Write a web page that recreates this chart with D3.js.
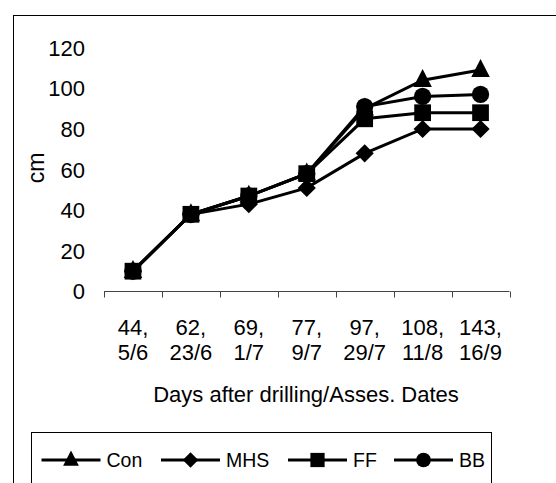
<!DOCTYPE html>
<meta charset="utf-8">
<style type="text/css">
    body { margin: 0; background: #fff; }
    svg text { font-family: "Liberation Sans", Arial, sans-serif; fill: #000; }
</style>
<svg id="chart" width="556" height="483"></svg>
<script src="https://cdn.jsdelivr.net/npm/d3@7"></script>
<script type="text/javascript">
    // data
    var days = ["44,", "62,", "69,", "77,", "97,", "108,", "143,"];
    var dates = ["5/6", "23/6", "1/7", "9/7", "29/7", "11/8", "16/9"];
    var yTicks = [0, 20, 40, 60, 80, 100, 120];

    var conValues = [10, 38, 47, 58, 90, 104, 109];
    var mhsValues = [10, 38, 43, 51, 68, 80, 80];
    var ffValues = [10, 38, 47, 58, 85, 88, 88];
    var bbValues = [10, 38, 47, 58, 91, 96, 97];

    var seriesNames = ["Con", "MHS", "FF", "BB"];
    var seriesShapes = ["triangle", "diamond", "square", "circle"];
    var seriesValues = [conValues, mhsValues, ffValues, bbValues];

    var svg = d3.select("#chart");

    // outer chart frame (runs off the right and bottom of the picture)
    svg.append("rect")
        .attr("x", 13.5).attr("y", 15.5)
        .attr("width", 700).attr("height", 600)
        .attr("fill", "none").attr("stroke", "#000").attr("stroke-width", 1);

    var x = d3.scaleBand().domain(days).range([104, 509.5]);
    var y = d3.scaleLinear().domain([0, 120]).range([291.5, 47.7]);
    var cx = d => x(d) + x.bandwidth() / 2;

    // y tick labels, no axis line
    svg.append("g").selectAll("text")
        .data(yTicks)
        .enter().append("text")
        .attr("x", 85)
        .attr("y", d => y(d))
        .attr("dy", "0.36em")
        .attr("text-anchor", "end")
        .style("font-size", "22px")
        .text(d => d);

    svg.append("text")
        .attr("transform", "translate(44,168) rotate(-90)")
        .attr("text-anchor", "middle")
        .style("font-size", "23px")
        .text("cm");

    // x axis: line plus ticks between categories
    var axisY = 291.5;
    svg.append("line")
        .attr("x1", x.range()[0]).attr("x2", x.range()[1])
        .attr("y1", axisY).attr("y2", axisY)
        .attr("stroke", "#444").attr("stroke-width", 1);
    var bounds = days.map(d => x(d)).concat([x.range()[1]]);
    svg.append("g").selectAll("line")
        .data(bounds)
        .enter().append("line")
        .attr("x1", d => Math.round(d) + 0.5).attr("x2", d => Math.round(d) + 0.5)
        .attr("y1", axisY).attr("y2", axisY + 6)
        .attr("stroke", "#444").attr("stroke-width", 1);

    var labels = svg.append("g").selectAll("text")
        .data(days)
        .enter().append("text")
        .attr("text-anchor", "middle")
        .style("font-size", "22px");
    labels.append("tspan")
        .attr("x", cx)
        .attr("y", 335)
        .text(d => d);
    labels.append("tspan")
        .attr("x", cx)
        .attr("y", 360)
        .text((d, i) => dates[i]);

    svg.append("text")
        .attr("x", 306).attr("y", 402)
        .attr("text-anchor", "middle")
        .style("font-size", "22px")
        .text("Days after drilling/Asses. Dates");

    // marker shapes, k scales them down for the legend
    function symbolFor(shape, k) {
        if (shape == "triangle") {
            var w = 18.5 * k, h = 18 * k;
            return "M0," + (-h * 0.62) + "L" + (w / 2) + "," + (h * 0.38) + "L" + (-w / 2) + "," + (h * 0.38) + "Z";
        }
        if (shape == "diamond") return d3.symbol(d3.symbolSquare, 165 * k * k)();
        if (shape == "square") return d3.symbol(d3.symbolSquare, 280 * k * k)();
        return d3.symbol(d3.symbolCircle, 235 * k * k)();
    }
    function rotFor(shape) { return shape == "diamond" ? " rotate(45)" : ""; }

    var line = d3.line()
        .x((d, i) => cx(days[i]))
        .y(d => y(d));

    // draw order: Con, MHS, BB, FF so the squares sit on top at the start
    var order = [0, 1, 3, 2];
    order.forEach(function (s) {
        var g = svg.append("g");
        g.append("path")
            .attr("d", line(seriesValues[s]))
            .attr("fill", "none").attr("stroke", "#000").attr("stroke-width", 3);
        g.selectAll("path.m")
            .data(seriesValues[s])
            .enter().append("path")
            .attr("class", "m")
            .attr("d", symbolFor(seriesShapes[s], 1))
            .attr("transform", (d, i) => "translate(" + cx(days[i]) + "," + y(d) + ")" + rotFor(seriesShapes[s]))
            .attr("fill", "#000");
    });

    // legend box
    svg.append("rect")
        .attr("x", 31.5).attr("y", 432.5)
        .attr("width", 460).attr("height", 100)
        .attr("fill", "#fff").attr("stroke", "#000").attr("stroke-width", 1);

    var legendX = [41.5, 161, 288, 394];
    var legendY = 460;
    seriesNames.forEach(function (name, s) {
        var g = svg.append("g").attr("transform", "translate(" + legendX[s] + "," + legendY + ")");
        g.append("line")
            .attr("x1", 0).attr("x2", 59)
            .attr("stroke", "#000").attr("stroke-width", 3);
        g.append("path")
            .attr("d", symbolFor(seriesShapes[s], 0.85))
            .attr("transform", "translate(29.5,0)" + rotFor(seriesShapes[s]))
            .attr("fill", "#000");
        g.append("text")
            .attr("x", 65)
            .attr("dy", "0.36em")
            .style("font-size", "19.5px")
            .text(name);
    });
</script>
